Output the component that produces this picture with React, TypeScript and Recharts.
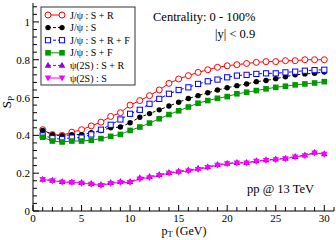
import React from 'react';
import { LineChart, Line, XAxis, YAxis } from 'recharts';

const pt = [1,2,3,4,5,6,7,8,9,10,11,12,13,14,15,16,17,18,19,20,21,22,23,24,25,26,27,28,29,30];
const jpsiSR = [0.43,0.404,0.40,0.417,0.43,0.45,0.47,0.50,0.52,0.56,0.584,0.61,0.64,0.675,0.698,0.716,0.733,0.747,0.76,0.768,0.774,0.78,0.786,0.79,0.79,0.795,0.795,0.80,0.80,0.80];
const jpsiS = [0.426,0.404,0.398,0.404,0.404,0.414,0.426,0.44,0.444,0.467,0.496,0.515,0.535,0.555,0.575,0.595,0.61,0.625,0.64,0.652,0.663,0.672,0.684,0.69,0.70,0.71,0.72,0.725,0.728,0.735];
const jpsiSRF = [0.40,0.385,0.38,0.388,0.388,0.405,0.43,0.456,0.484,0.514,0.535,0.567,0.593,0.62,0.64,0.654,0.672,0.686,0.695,0.707,0.716,0.72,0.725,0.728,0.728,0.733,0.737,0.742,0.745,0.747];
const jpsiSF = [0.39,0.37,0.365,0.37,0.37,0.374,0.383,0.395,0.405,0.426,0.444,0.465,0.488,0.51,0.53,0.55,0.57,0.584,0.596,0.605,0.62,0.628,0.637,0.646,0.654,0.66,0.667,0.672,0.677,0.684];
const psi2sSR = [0.168,0.162,0.155,0.153,0.15,0.145,0.14,0.15,0.155,0.155,0.175,0.182,0.192,0.203,0.21,0.216,0.225,0.233,0.245,0.252,0.256,0.256,0.265,0.27,0.274,0.279,0.288,0.296,0.31,0.302];
const psi2sS = [0.167,0.16,0.153,0.151,0.147,0.142,0.135,0.146,0.151,0.151,0.17,0.177,0.188,0.2,0.207,0.212,0.22,0.23,0.242,0.25,0.254,0.254,0.263,0.268,0.272,0.277,0.286,0.293,0.307,0.30];

const xTicks = Array.from({ length: 32 }, (_, i) => i);
const yTicks = Array.from({ length: 28 }, (_, i) => Math.round(i * 4) / 100);
const xMajor = [0, 5, 10, 15, 20, 25, 30];
const yMajorLabels: Record<string, string> = { '0': '0', '0.2': '0.2', '0.4': '0.4', '0.6': '0.6', '0.8': '0.8', '1': '1' };

const legendItems = [
  { label: 'J/ψ : S + R', color: '#ff0000', shape: 'ocircle', dash: '' },
  { label: 'J/ψ : S', color: '#000000', shape: 'circle', dash: '3 2' },
  { label: 'J/ψ : S + R + F', color: '#0000ff', shape: 'osquare', dash: '3 2' },
  { label: 'J/ψ : S + F', color: '#009900', shape: 'square', dash: '' },
  { label: 'ψ(2S) : S + R', color: '#9400d3', shape: 'tri', dash: '3 2' },
  { label: 'ψ(2S) : S', color: '#ff00ff', shape: 'tridown', dash: '' },
];

const data = pt.map((p, i) => ({
  pt: p,
  a: jpsiSR[i],
  b: jpsiS[i],
  c: jpsiSRF[i],
  d: jpsiSF[i],
  e: psi2sSR[i],
  f: psi2sS[i],
}));

const FONT = 'Liberation Serif, Times New Roman, serif';

function Marker({ shape, cx, cy, color }: { shape: string; cx: number; cy: number; color: string }) {
  if (cx == null || cy == null || isNaN(cx) || isNaN(cy)) return null;
  switch (shape) {
    case 'ocircle':
      return <circle cx={cx} cy={cy} r={3} fill="#fff" stroke={color} strokeWidth={1} />;
    case 'circle':
      return <circle cx={cx} cy={cy} r={2.7} fill={color} stroke="none" />;
    case 'osquare':
      return <rect x={cx - 2.6} y={cy - 2.6} width={5.2} height={5.2} fill="#fff" stroke={color} strokeWidth={1} />;
    case 'square':
      return <rect x={cx - 2.8} y={cy - 2.8} width={5.6} height={5.6} fill={color} stroke="none" />;
    case 'tri':
      return <polygon points={`${cx},${cy - 3.6} ${cx - 3.3},${cy + 2.4} ${cx + 3.3},${cy + 2.4}`} fill={color} />;
    case 'tridown':
      return <polygon points={`${cx},${cy + 3.6} ${cx - 3.3},${cy - 2.4} ${cx + 3.3},${cy - 2.4}`} fill={color} />;
    default:
      return null;
  }
}

const mkDot = (shape: string, color: string) => (props: any) => (
  <Marker key={`${shape}-${props.index}`} shape={shape} cx={props.cx} cy={props.cy} color={color} />
);

const BottomTick = (props: any) => {
  const { x, y, payload } = props;
  const v = payload.value;
  const major = xMajor.includes(v);
  return (
    <g>
      <line x1={x} x2={x} y1={y} y2={y - (major ? 6 : 4)} stroke="#000" strokeWidth={1} />
      {major && (
        <text x={x} y={y + 11} textAnchor="middle" fontSize={11} fontFamily={FONT} fill="#000">
          {v}
        </text>
      )}
    </g>
  );
};

const TopTick = (props: any) => {
  const { x, y, payload } = props;
  const major = xMajor.includes(payload.value);
  return <line x1={x} x2={x} y1={y} y2={y + (major ? 6 : 4)} stroke="#000" strokeWidth={1} />;
};

const LeftTick = (props: any) => {
  const { x, y, payload } = props;
  const key = String(Math.round(payload.value * 100) / 100);
  const label = yMajorLabels[key];
  const major = label !== undefined;
  return (
    <g>
      <line x1={x} x2={x + (major ? 6 : 4)} y1={y} y2={y} stroke="#000" strokeWidth={1} />
      {major && (
        <text x={x - 3} y={y + 4} textAnchor="end" fontSize={11} fontFamily={FONT} fill="#000">
          {label}
        </text>
      )}
    </g>
  );
};

const RightTick = (props: any) => {
  const { x, y, payload } = props;
  const key = String(Math.round(payload.value * 100) / 100);
  const major = yMajorLabels[key] !== undefined;
  return <line x1={x} x2={x - (major ? 6 : 4)} y1={y} y2={y} stroke="#000" strokeWidth={1} />;
};

function LegendBox() {
  const rowY0 = 15;
  const dy = 12.6;
  return (
    <svg width={336} height={240} style={{ position: 'absolute', left: 0, top: 0, pointerEvents: 'none' }}>
      <rect x={41} y={7} width={94} height={78} fill="#fff" stroke="#333" strokeWidth={1} />
      {legendItems.map((it, i) => {
        const y = rowY0 + i * dy;
        return (
          <g key={it.label}>
            <line x1={48} x2={62} y1={y} y2={y} stroke={it.color} strokeWidth={1} strokeDasharray={it.dash || undefined} />
            <Marker shape={it.shape} cx={48} cy={y} color={it.color} />
            <Marker shape={it.shape} cx={62} cy={y} color={it.color} />
            <text x={70} y={y + 3.5} fontSize={10} fontFamily={FONT} fill="#000">
              {it.label}
            </text>
          </g>
        );
      })}
      <text x={153} y={21} fontSize={12.5} fontFamily={FONT} fill="#000">Centrality: 0 - 100%</text>
      <text x={215} y={38} fontSize={12.5} fontFamily={FONT} fill="#000">|y| &lt; 0.9</text>
      <text x={247} y={193} fontSize={12.5} fontFamily={FONT} fill="#000">pp @ 13 TeV</text>
      <text transform="translate(11,102) rotate(-90)" textAnchor="middle" fontSize={13} fontFamily={FONT} fill="#000">
        S<tspan fontSize={9} dy={3}>P</tspan>
      </text>
      <text x={184} y={234.5} textAnchor="middle" fontSize={12} fontFamily={FONT} fill="#000">
        p<tspan fontSize={8.5} dy={2.5}>T</tspan><tspan dy={-2.5}> (GeV)</tspan>
      </text>
    </svg>
  );
}

export default function App() {
  return (
    <div style={{ position: 'absolute', left: 0, top: 0, width: 336, height: 240, background: '#fff' }}>
      <LineChart width={336} height={240} data={data} margin={{ top: 3, right: 2, left: 0, bottom: 0 }}>
        <XAxis
          xAxisId="b"
          dataKey="pt"
          type="number"
          domain={[0, 31]}
          ticks={xTicks}
          interval={0}
          height={29}
          tickSize={0}
          tickMargin={0}
          tickLine={false}
          axisLine={{ stroke: '#000', strokeWidth: 1 }}
          tick={BottomTick}
          allowDataOverflow
        />
        <XAxis
          xAxisId="t"
          orientation="top"
          dataKey="pt"
          type="number"
          domain={[0, 31]}
          ticks={xTicks}
          interval={0}
          height={0}
          tickSize={0}
          tickMargin={0}
          tickLine={false}
          axisLine={{ stroke: '#000', strokeWidth: 1 }}
          tick={TopTick}
          allowDataOverflow
        />
        <YAxis
          yAxisId="l"
          type="number"
          domain={[0, 1.1]}
          ticks={yTicks}
          interval={0}
          width={33}
          tickSize={0}
          tickMargin={0}
          tickLine={false}
          axisLine={{ stroke: '#000', strokeWidth: 1 }}
          tick={LeftTick}
          allowDataOverflow
        />
        <YAxis
          yAxisId="r"
          orientation="right"
          type="number"
          domain={[0, 1.1]}
          ticks={yTicks}
          interval={0}
          width={0}
          tickSize={0}
          tickMargin={0}
          tickLine={false}
          axisLine={{ stroke: '#000', strokeWidth: 1 }}
          tick={RightTick}
          allowDataOverflow
        />
        <Line xAxisId="t" yAxisId="r" dataKey="a" stroke="none" dot={false} legendType="none" isAnimationActive={false} />
        <Line xAxisId="b" yAxisId="l" dataKey="a" stroke="#ff0000" strokeWidth={1} dot={mkDot('ocircle', '#ff0000')} isAnimationActive={false} />
        <Line xAxisId="b" yAxisId="l" dataKey="b" stroke="#000000" strokeWidth={1} strokeDasharray="3 2" dot={mkDot('circle', '#000000')} isAnimationActive={false} />
        <Line xAxisId="b" yAxisId="l" dataKey="c" stroke="#0000ff" strokeWidth={1} strokeDasharray="3 2" dot={mkDot('osquare', '#0000ff')} isAnimationActive={false} />
        <Line xAxisId="b" yAxisId="l" dataKey="d" stroke="#009900" strokeWidth={1} dot={mkDot('square', '#009900')} isAnimationActive={false} />
        <Line xAxisId="b" yAxisId="l" dataKey="e" stroke="#9400d3" strokeWidth={1} strokeDasharray="3 2" dot={mkDot('tri', '#9400d3')} isAnimationActive={false} />
        <Line xAxisId="b" yAxisId="l" dataKey="f" stroke="#ff00ff" strokeWidth={1} dot={mkDot('tridown', '#ff00ff')} isAnimationActive={false} />
      </LineChart>
      <LegendBox />
    </div>
  );
}
